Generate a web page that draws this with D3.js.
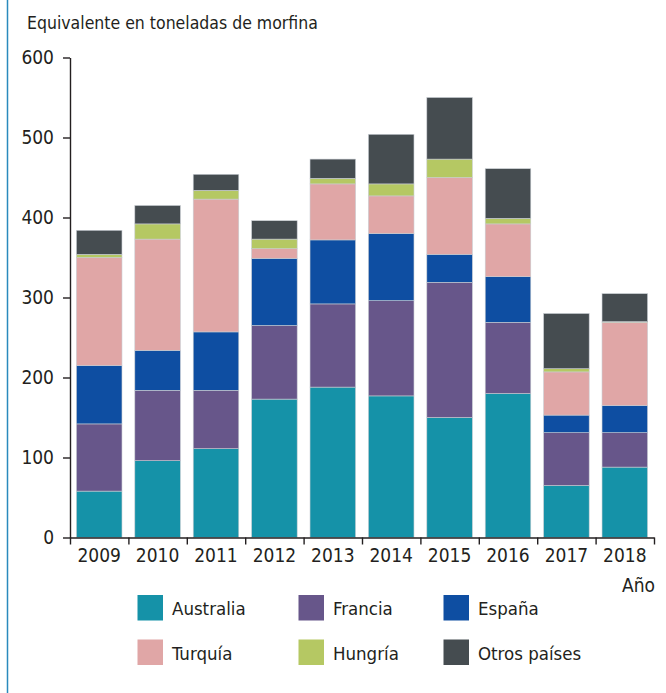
<!DOCTYPE html>
<html>
<head>
  <meta charset="utf-8">
  <title>Equivalente en toneladas de morfina</title>
  <script src="https://cdn.jsdelivr.net/npm/d3@7/dist/d3.min.js"></script>
  <style>
    body { margin: 0; background: #fff; }
    svg text { font-family: "DejaVu Sans Condensed", "Liberation Sans Narrow", "DejaVu Sans", sans-serif; font-stretch: condensed; fill: #231f20; }
  </style>
</head>
<body>
  <svg class="chart" width="666" height="693"></svg>
  <script>
    "use strict";

    // data
    var years = ["2009", "2010", "2011", "2012", "2013", "2014", "2015", "2016", "2017", "2018"];
    var australia = [58, 96, 111, 173, 188, 177, 150, 180, 65, 88];
    var francia   = [84, 88, 73, 92, 104, 119, 169, 89, 66, 43];
    var espana    = [73, 50, 73, 84, 80, 84, 35, 57, 22, 34];
    var turquia   = [135, 139, 166, 12, 70, 47, 96, 66, 54, 104];
    var hungria   = [4, 19, 11, 12, 7, 15, 23, 7, 4, 0.8];
    var otros     = [30, 23, 20, 23, 24, 62, 77, 62, 69, 35];
    var yTicks = [0, 100, 200, 300, 400, 500, 600];

    var keys = ["Australia", "Francia", "España", "Turquía", "Hungría", "Otros países"];
    var colors = ["#1592a8", "#67568a", "#0e4ea2", "#e0a6a6", "#b5c863", "#454c50"];
    var seriesVals = [australia, francia, espana, turquia, hungria, otros];

    var rows = years.map(function(yr, i) {
      var r = { year: yr };
      keys.forEach(function(k, j) { r[k] = seriesVals[j][i]; });
      return r;
    });

    var svg = d3.select("svg.chart");
    var plot = { left: 70, right: 654, top: 57.5, bottom: 537.5 };

    // left border line
    svg.append("line")
      .attr("x1", 7.5).attr("x2", 7.5).attr("y1", 0).attr("y2", 693)
      .attr("stroke", "#2a8abd").attr("stroke-width", 1.5);

    var x = d3.scaleBand().domain(years).range([plot.left, plot.right])
      .paddingInner(0.22).paddingOuter(0.11);
    var xb = d3.scaleLinear().domain([0, years.length]).range([plot.left, plot.right]);
    var y = d3.scaleLinear().domain([0, 600]).range([plot.bottom, plot.top]);
    var color = d3.scaleOrdinal().domain(keys).range(colors);

    var stacked = d3.stack().keys(keys)(rows);

    var layers = svg.selectAll("g.layer")
      .data(stacked)
      .enter().append("g")
      .attr("class", "layer")
      .attr("fill", function(d) { return color(d.key); });

    layers.selectAll("rect")
      .data(function(d) { return d; })
      .enter().append("rect")
      .attr("x", function(d) { return x(d.data.year); })
      .attr("y", function(d) { return y(d[1]); })
      .attr("width", x.bandwidth())
      .attr("height", function(d) { return y(d[0]) - y(d[1]); })
      .attr("stroke", "#c9cdd2")
      .attr("stroke-width", 0.6);

    // y axis
    var yAxis = svg.append("g")
      .attr("transform", "translate(" + plot.left + ",0)")
      .call(d3.axisLeft(y).tickValues(yTicks).tickSize(7).tickPadding(9).tickSizeOuter(0));
    yAxis.selectAll("text").style("font-size", "19px");

    // x axis: ticks at band edges, labels at band centres
    var xAxis = svg.append("g")
      .attr("transform", "translate(0," + plot.bottom + ")")
      .call(d3.axisBottom(xb).tickValues(d3.range(years.length + 1)).tickFormat("").tickSize(7).tickSizeOuter(0));
    var xLabels = svg.append("g")
      .attr("transform", "translate(0," + plot.bottom + ")")
      .call(d3.axisBottom(x).tickSize(0).tickPadding(11));
    xLabels.select(".domain").remove();
    xLabels.selectAll("text").style("font-size", "19px");

    svg.selectAll(".domain, .tick line")
      .attr("stroke", "#231f20").attr("stroke-width", 1.4);

    svg.append("text")
      .attr("x", 27).attr("y", 29)
      .style("font-size", "17.5px")
      .text("Equivalente en toneladas de morfina");

    svg.append("text")
      .attr("x", 655).attr("y", 592)
      .attr("text-anchor", "end")
      .style("font-size", "19px")
      .text("Año");

    // legend
    var legX = [137.5, 298.5, 443.5];
    var legY = [595, 639.5];
    var legend = svg.selectAll("g.leg")
      .data(keys)
      .enter().append("g")
      .attr("class", "leg")
      .attr("transform", function(d, i) {
        return "translate(" + legX[i % 3] + "," + legY[Math.floor(i / 3)] + ")";
      });
    legend.append("rect")
      .attr("width", 25.5).attr("height", 25.5)
      .attr("fill", function(d) { return color(d); });
    legend.append("text")
      .attr("x", 34.5).attr("y", 20)
      .style("font-size", "18.5px")
      .text(function(d) { return d; });
  </script>
</body>
</html>
